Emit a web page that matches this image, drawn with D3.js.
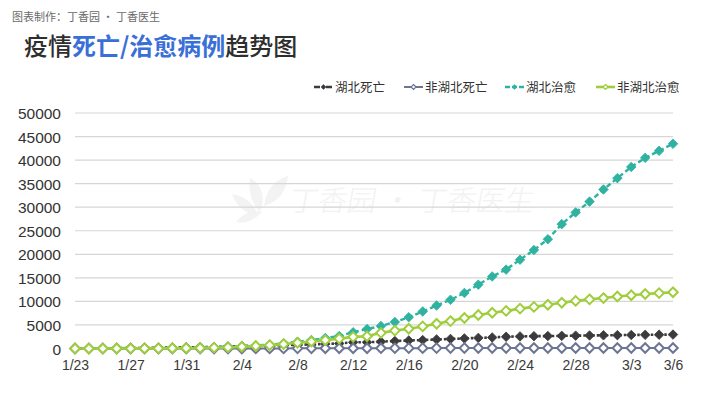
<!DOCTYPE html>
<html>
<head>
<meta charset="utf-8">
<script src="https://cdn.jsdelivr.net/npm/d3@7/dist/d3.min.js"></script>
<style>
  html, body { margin: 0; padding: 0; background: #fff; }
  svg { display: block; }
</style>
</head>
<body>
<svg id="chart" width="720" height="393"></svg>
<script>
const dates = ["1/23","1/24","1/25","1/26","1/27","1/28","1/29","1/30","1/31",
  "2/1","2/2","2/3","2/4","2/5","2/6","2/7","2/8","2/9","2/10","2/11","2/12","2/13","2/14",
  "2/15","2/16","2/17","2/18","2/19","2/20","2/21","2/22","2/23","2/24","2/25","2/26","2/27","2/28","2/29",
  "3/1","3/2","3/3","3/4","3/5","3/6"];
const xTickLabels = ["1/23","1/27","1/31","2/4","2/8","2/12","2/16","2/20","2/24","2/28","3/3","3/6"];
const yTicks = [0,5000,10000,15000,20000,25000,30000,35000,40000,45000,50000];

const hubeiDeaths = [24,39,52,76,100,125,162,204,249,294,350,414,479,549,618,699,780,871,974,1068,
  1310,1318,1457,1596,1696,1789,1921,2029,2144,2250,2346,2495,2563,2615,2641,2682,2727,2761,2803,2834,2871,2902,2931,2959];
const otherDeaths = [1,2,4,4,6,7,8,9,10,10,11,11,11,14,18,23,31,37,42,45,
  57,62,66,69,74,79,83,89,92,95,96,97,100,100,103,106,108,109,109,109,110,110,111,111];
const hubeiCured = [31,32,44,44,47,80,90,116,166,215,295,396,520,633,817,1115,1439,1795,2222,2639,
  3441,4131,4774,5623,6639,7862,9128,10337,11788,13557,15299,16748,18854,20912,23200,26403,28895,31187,33757,36167,38556,40479,41966,43468];
const otherCured = [3,6,5,7,13,23,34,55,77,113,180,236,372,520,723,935,1210,1486,1774,2101,
  2470,2592,3322,3796,4205,4690,5248,5818,6476,7102,7589,7986,8469,8833,9295,9714,10107,10438,10705,11037,11300,11566,11760,11936];

const seriesNames = ["湖北死亡","非湖北死亡","湖北治愈","非湖北治愈"];
const seriesValues = [hubeiDeaths, otherDeaths, hubeiCured, otherCured];
const styles = [
  {color:"#3b3b3b", dash:"2.5,2", width:2.6, hollow:false},
  {color:"#6c7593", dash:null, width:2, hollow:true},
  {color:"#2fb3a0", dash:"5,3", width:2.4, hollow:false},
  {color:"#9fce3c", dash:null, width:2.6, hollow:true}
];

const svg = d3.select("#chart");
const numFont = "'Liberation Sans', 'Noto Sans CJK SC', sans-serif";
const cjkFont = "'Noto Sans CJK SC', sans-serif";

// header
svg.append("text").attr("x", 12).attr("y", 21)
  .attr("font-family", cjkFont).attr("font-size", 11).attr("fill", "#6a6a6a")
  .text("图表制作：丁香园 · 丁香医生");
const title = svg.append("text").attr("x", 24).attr("y", 55)
  .attr("font-family", cjkFont).attr("font-size", 24).attr("font-weight", 500).attr("fill", "#2e2e2e");
title.append("tspan").text("疫情");
title.append("tspan").attr("fill", "#3a6fd8").attr("font-weight", 700).text("死亡/治愈病例");
title.append("tspan").text("趋势图");

// watermark
const wm = svg.append("g").attr("fill", "#f3f3f3");
wm.append("path").attr("d", "M250,178 C262,184 266,198 260,212 C252,204 248,192 250,178 Z");
wm.append("path").attr("d", "M264,206 C266,190 274,180 288,176 C286,192 278,202 264,206 Z");
wm.append("path").attr("d", "M232,194 C246,196 256,206 258,216 C246,214 236,206 232,194 Z");
wm.append("path").attr("d", "M236,222 C244,212 254,210 262,212 C254,220 246,224 236,222 Z");
wm.append("text").attr("x", 283).attr("y", 211)
  .attr("font-family", cjkFont).attr("font-size", 29).attr("font-weight", 300).attr("fill", "#f2f2f2")
  .attr("transform", "translate(42,0) skewX(-10)")
  .text("丁香园 · 丁香医生");

const x = d3.scaleLinear().domain([0, dates.length - 1]).range([75, 673]);
const y = d3.scaleLinear().domain([0, 50000]).range([348.5, 113]);

// grid
svg.append("g").selectAll("line").data(yTicks).join("line")
  .attr("x1", 75).attr("x2", 673)
  .attr("y1", d => y(d)).attr("y2", d => y(d))
  .attr("stroke", "#d6d6d6").attr("stroke-width", 1.2);

// y axis
const yAxis = svg.append("g").attr("transform", "translate(61,0)")
  .call(d3.axisLeft(y).tickValues(yTicks).tickSize(0).tickPadding(0).tickFormat(d3.format("d")));
yAxis.select(".domain").remove();
yAxis.selectAll("text").attr("font-family", numFont).attr("font-size", 15.5).attr("fill", "#333")
  .attr("dy", "0.36em");

// x axis
const xIdx = xTickLabels.map(l => dates.indexOf(l));
const xAxis = svg.append("g").attr("transform", "translate(0,358)")
  .call(d3.axisBottom(x).tickValues(xIdx).tickSize(0).tickPadding(0).tickFormat(i => dates[i]));
xAxis.select(".domain").remove();
xAxis.selectAll("text").attr("font-family", numFont).attr("font-size", 14).attr("fill", "#3a3a3a")
  .attr("dy", "0.88em");

const diamond = d3.symbol().type(d3.symbolDiamond2).size(58);
const line = d3.line().x((d, i) => x(i)).y(d => y(d));

seriesValues.forEach((vals, k) => {
  const s = styles[k];
  const g = svg.append("g");
  g.append("path").datum(vals).attr("d", line)
    .attr("fill", "none").attr("stroke", s.color).attr("stroke-width", s.width)
    .attr("stroke-dasharray", s.dash);
  g.selectAll("path.m").data(vals).join("path").attr("class", "m")
    .attr("d", diamond)
    .attr("transform", (d, i) => `translate(${x(i)},${y(d)})`)
    .attr("fill", s.hollow ? "#fff" : s.color)
    .attr("stroke", s.color).attr("stroke-width", s.hollow ? 2 : 0.8);
});

// legend
const legendX = [314, 404, 505, 596];
const lg = svg.append("g");
seriesNames.forEach((name, k) => {
  const s = styles[k];
  const g = lg.append("g").attr("transform", `translate(${legendX[k]},87)`);
  g.append("line").attr("x1", 0).attr("x2", 19).attr("y1", 0).attr("y2", 0)
    .attr("stroke", s.color).attr("stroke-width", s.width)
    .attr("stroke-dasharray", k === 0 ? "6,2,2,2" : (k === 2 ? "5,2" : null));
  g.append("path").attr("d", d3.symbol().type(d3.symbolDiamond2).size(16))
    .attr("transform", "translate(9.5,0)")
    .attr("fill", s.hollow ? "#fff" : s.color).attr("stroke", s.color).attr("stroke-width", s.hollow ? 1.2 : 0.5);
  g.append("text").attr("x", 21).attr("y", 0).attr("dy", "0.36em")
    .attr("font-family", cjkFont).attr("font-size", 12.5).attr("fill", "#333")
    .text(name);
});
</script>
</body>
</html>
